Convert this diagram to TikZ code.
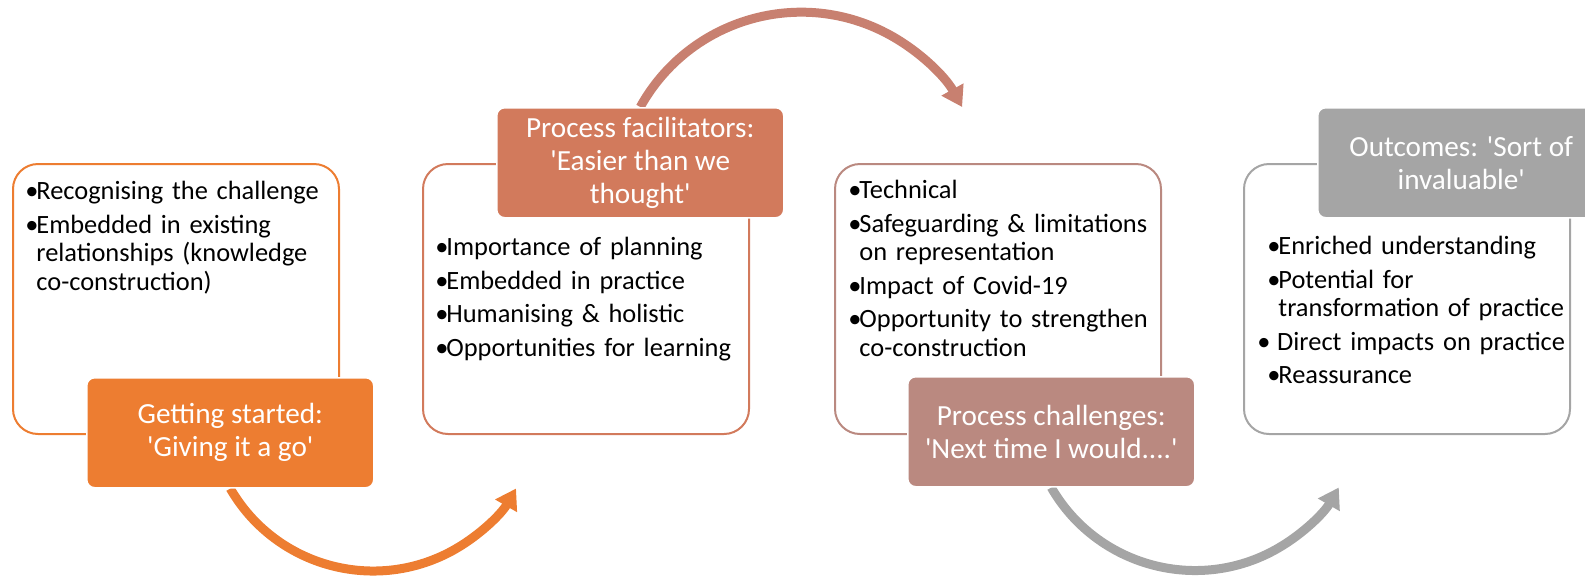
\documentclass[tikz,border=0pt]{standalone}
\usepackage{fontspec}
\setmainfont{Carlito}
\usetikzlibrary{arrows.meta,backgrounds}

\definecolor{accOrange}{HTML}{ED7D31}
\definecolor{accRust}{HTML}{D27A5C}
\definecolor{accArrow}{HTML}{C88070}
\definecolor{accMauve}{HTML}{BA8980}
\definecolor{accGray}{HTML}{A5A5A5}

\newlength{\bulw}\setlength{\bulw}{5.5pt}
\newcommand{\bitem}[2][0pt]{\par\lineskiplimit=-5pt\hangindent=\bulw\hangafter=1\noindent\strut\hspace*{#1}\makebox[\bulw][l]{\textbullet}#2\par\vspace{2.5pt}}
\newcommand{\sq}{\textquotesingle}
\newcommand{\listfont}{\fontsize{13.2}{14.25}\selectfont}

\begin{document}
\begin{tikzpicture}[x=0.5pt,y=0.5pt,yscale=-1,
  boxframe/.style={draw=#1, line width=1pt, fill=white, rounded corners=12.5pt, minimum width=163pt, minimum height=135pt, anchor=north west, inner sep=0pt},
  steplabel/.style={fill=#1, draw=white, line width=0.75pt, rounded corners=4pt, minimum width=143.5pt, minimum height=55pt, anchor=north west, text=white, align=center, inner sep=0pt, font=\fontsize{14.6}{16.5}\selectfont},
  bodytext/.style={anchor=north west, inner sep=0pt, text width=165pt, align=left, font=\listfont},
  cyclearrow/.style={draw=#1, line width=4.5pt, -{Triangle[width=12pt,length=10pt]}}]
\useasboundingbox (0,0) rectangle (1585,579);
\clip (0,0) rectangle (1585,579);

% frames
\node[boxframe=accOrange] (box1) at (12,163) {};
\node[boxframe=accRust] (box2) at (422,163) {};
\node[boxframe=accMauve] (box3) at (834,163) {};
\node[boxframe=accGray] (box4) at (1243,163) {};

% bullet lists
\node[bodytext] (list1) at (25,171) {\bitem{Recognising the challenge}\bitem{Embedded in existing\newline relationships (knowledge\newline co-construction)}};
\node[bodytext] (list2) at (435,227) {\bitem{Importance of planning}\bitem{Embedded in practice}\bitem{Humanising \& holistic}\bitem{Opportunities for learning}};
\node[bodytext] (list3) at (848,170) {\bitem{Technical}\bitem{Safeguarding \& limitations\newline on representation}\bitem{Impact of Covid-19}\bitem{Opportunity to strengthen\newline co-construction}};
\node[bodytext] (list4) at (1267,226) {\bitem{Enriched understanding}\bitem{Potential for\newline transformation of practice}\bitem[-5pt]{\ Direct impacts on practice}\bitem{Reassurance}};

% stage labels
\node[steplabel=accOrange] (lab1) at (86,377) {Getting started:\\ \sq Giving it a go\sq};
\node[steplabel=accRust] (lab2) at (496,107) {Process facilitators:\\ \sq Easier than we\\ thought\sq};
\node[steplabel=accMauve] (lab3) at (907,376) {Process challenges:\\ \sq Next time I would....\sq};
\node[steplabel=accGray] (lab4) at (1317,107) {Outcomes: \sq Sort of\\ invaluable\sq};

% cycle arrows
\begin{scope}[on background layer]
\draw[cyclearrow=accOrange] (lab1.south) arc[start angle=150, end angle=30, radius=165];
\draw[cyclearrow=accArrow] (lab2.north) arc[start angle=209, end angle=331, radius=184];
\draw[cyclearrow=accGray] (lab3.south) arc[start angle=150, end angle=30, radius=166];
\end{scope}

\end{tikzpicture}
\end{document}
